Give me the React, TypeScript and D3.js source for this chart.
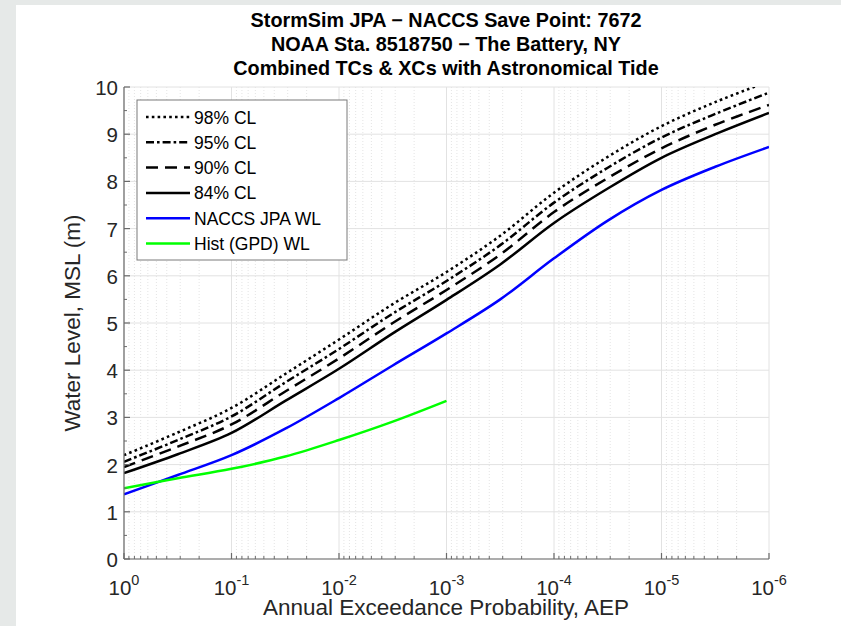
import React from "react";
import * as d3 from "d3";

const titleLines = [
  "StormSim JPA \u2212 NACCS Save Point: 7672",
  "NOAA Sta. 8518750 \u2212 The Battery, NY",
  "Combined TCs & XCs with Astronomical Tide",
];
const xLabel = "Annual Exceedance Probability, AEP";
const yLabel = "Water Level, MSL (m)";

const aep = [1, 0.3162, 0.1, 0.03162, 0.01, 0.003162, 0.001, 3.162e-4, 1e-4, 3.162e-5, 1e-5, 3.162e-6, 1e-6];
const cl98 = [2.2, 2.68, 3.2, 3.92, 4.65, 5.4, 6.08, 6.85, 7.76, 8.52, 9.17, 9.68, 10.12];
const cl95 = [2.06, 2.52, 3.02, 3.74, 4.45, 5.2, 5.89, 6.65, 7.55, 8.29, 8.93, 9.43, 9.88];
const cl90 = [1.95, 2.38, 2.85, 3.55, 4.25, 5.0, 5.7, 6.45, 7.35, 8.07, 8.7, 9.2, 9.62];
const cl84 = [1.82, 2.22, 2.67, 3.35, 4.03, 4.78, 5.49, 6.24, 7.12, 7.85, 8.5, 9.0, 9.45];
const naccs = [1.37, 1.78, 2.2, 2.76, 3.41, 4.1, 4.78, 5.5, 6.37, 7.17, 7.82, 8.31, 8.73];
const histAep = [1, 0.3162, 0.1, 0.03162, 0.01, 0.003162, 0.001];
const hist = [1.5, 1.71, 1.91, 2.17, 2.52, 2.91, 3.35];

const xTickExp = [0, -1, -2, -3, -4, -5, -6];
const yTicks = [0, 1, 2, 3, 4, 5, 6, 7, 8, 9, 10];

const seriesNames = ["98% CL", "95% CL", "90% CL", "84% CL", "NACCS JPA WL", "Hist (GPD) WL"];

export default function App() {
  const W = 841, H = 626;
  const left = 124, right = 769, top = 87, bottom = 559;
  const x = d3.scaleLog().domain([1, 1e-6]).range([left, right]);
  const y = d3.scaleLinear().domain([0, 10]).range([bottom, top]);
  const font = "'Liberation Sans', Arial, Helvetica, sans-serif";

  const mk = (xs: number[], ys: number[]) =>
    d3.line<number>()
      .x((_, i) => x(xs[i]))
      .y((v) => y(v))
      .curve(d3.curveCatmullRom.alpha(0.5))(ys) as string;

  const styles = [
    { data: cl98, xs: aep, color: "#000", dash: "2.6 3.2" },
    { data: cl95, xs: aep, color: "#000", dash: "8 3 2.6 3" },
    { data: cl90, xs: aep, color: "#000", dash: "12 7" },
    { data: cl84, xs: aep, color: "#000", dash: "none" },
    { data: naccs, xs: aep, color: "#0000ff", dash: "none" },
    { data: hist, xs: histAep, color: "#00ff00", dash: "none" },
  ];

  const minorX: number[] = [];
  for (let e = 0; e > -6; e--) {
    for (let k = 2; k <= 9; k++) minorX.push(Math.pow(10, e - 1) * k);
  }
  const minorY: number[] = [];
  for (let v = 0.5; v < 10; v += 1) minorY.push(v);

  const axisColor = "#6a6a6a";
  const legX = 137, legY = 100, legW = 210, legH = 160;
  const rowH = 25.3;

  return (
    <svg width={W} height={H} style={{ position: "absolute", left: 0, top: 0 }} fontFamily={font}>
      <rect x={0} y={0} width={W} height={H} fill="#e6e9e8" />
      <rect x={16} y={5} width={W - 16} height={H - 5} fill="#ffffff" />
      <defs>
        <clipPath id="plotclip">
          <rect x={left} y={top} width={right - left} height={bottom - top} />
        </clipPath>
      </defs>
      {minorX.map((v, i) => (
        <line key={"mg" + i} x1={x(v)} x2={x(v)} y1={top} y2={bottom} stroke="#e4e4e4" strokeWidth={1} strokeDasharray="1 2" />
      ))}
      {xTickExp.map((e) => (
        <line key={"gx" + e} x1={x(Math.pow(10, e))} x2={x(Math.pow(10, e))} y1={top} y2={bottom} stroke="#e2e2e2" strokeWidth={1} />
      ))}
      {yTicks.map((v) => (
        <line key={"gy" + v} x1={left} x2={right} y1={y(v)} y2={y(v)} stroke="#e2e2e2" strokeWidth={1} />
      ))}
      <g clipPath="url(#plotclip)">
        {styles.map((s, i) => (
          <path key={"c" + i} d={mk(s.xs, s.data)} fill="none" stroke={s.color} strokeWidth={2.5} strokeDasharray={s.dash} />
        ))}
      </g>
      <line x1={left} x2={right} y1={bottom} y2={bottom} stroke={axisColor} strokeWidth={1.2} />
      <line x1={left} x2={left} y1={top} y2={bottom} stroke={axisColor} strokeWidth={1.2} />
      {xTickExp.map((e) => (
        <line key={"tx" + e} x1={x(Math.pow(10, e))} x2={x(Math.pow(10, e))} y1={bottom} y2={bottom - 6} stroke={axisColor} strokeWidth={1.2} />
      ))}
      {minorX.map((v, i) => (
        <line key={"mtx" + i} x1={x(v)} x2={x(v)} y1={bottom} y2={bottom - 3} stroke={axisColor} strokeWidth={1} />
      ))}
      {yTicks.map((v) => (
        <line key={"ty" + v} x1={left} x2={left + 6} y1={y(v)} y2={y(v)} stroke={axisColor} strokeWidth={1.2} />
      ))}
      {minorY.map((v, i) => (
        <line key={"mty" + i} x1={left} x2={left + 3} y1={y(v)} y2={y(v)} stroke={axisColor} strokeWidth={1} />
      ))}
      {yTicks.map((v) => (
        <text key={"ly" + v} x={118} y={y(v) + 8} fontSize={20.5} fill="#262626" textAnchor="end">{v}</text>
      ))}
      {xTickExp.map((e) => (
        <text key={"lx" + e} x={x(Math.pow(10, e))} y={595} fontSize={20.5} fill="#262626" textAnchor="middle">
          <tspan>10</tspan>
          <tspan dy={-10} fontSize={14.5}>{String(e)}</tspan>
        </text>
      ))}
      <text x={446} y={615} fontSize={22.5} fill="#262626" textAnchor="middle">{xLabel}</text>
      <text transform={`translate(80,323) rotate(-90)`} fontSize={22.5} fill="#262626" textAnchor="middle">{yLabel}</text>
      {titleLines.map((t, i) => (
        <text key={"t" + i} x={446} y={27 + i * 24} fontSize={19.8} fontWeight="bold" fill="#000" textAnchor="middle">{t}</text>
      ))}
      <rect x={legX} y={legY} width={legW} height={legH} fill="#fff" stroke="#7a7a7a" strokeWidth={1} />
      {styles.map((s, i) => {
        const cy = legY + 17 + i * rowH;
        return (
          <g key={"lg" + i}>
            <line x1={146} x2={190} y1={cy} y2={cy} stroke={s.color} strokeWidth={2.5} strokeDasharray={s.dash} />
            <text x={194} y={cy + 6.5} fontSize={17.5} fill="#000">{seriesNames[i]}</text>
          </g>
        );
      })}
    </svg>
  );
}
